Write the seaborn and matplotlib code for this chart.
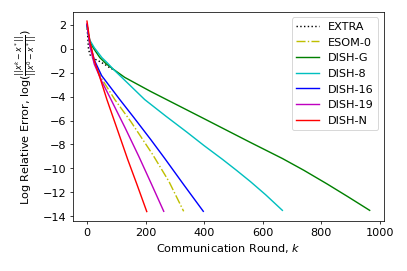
import matplotlib
matplotlib.use("Agg")
import matplotlib.pyplot as plt
import seaborn as sns

# valori (round k, log errore relativo)
extra_k = [0, 3, 5, 10, 20, 38, 60, 78, 90]
extra_y = [2.0, 0.8, 0.0, -0.5, -0.8, -1.0, -1.3, -1.6, -1.75]

esom_k = [0, 10, 25, 50, 95, 150, 224, 280, 330]
esom_y = [2.0, 0.3, -1.2, -2.5, -4.25, -6.1, -8.83, -11.1, -13.58]

dishg_k = [0, 5, 10, 21, 44, 65, 90, 129, 218, 400, 558, 667, 740, 820, 890, 965]
dishg_y = [2.0, 1.1, 0.6, 0.08, -0.75, -1.25, -1.72, -2.4, -3.58, -5.85, -7.83, -9.17, -10.15, -11.3, -12.35, -13.5]

dish8_k = [0, 5, 10, 25, 51, 70, 90, 140, 197, 270, 340, 400, 463, 510, 558, 610, 667]
dish8_y = [2.0, 1.2, 0.7, 0.08, -0.75, -1.2, -1.72, -2.9, -4.25, -5.65, -6.95, -8.1, -9.25, -10.15, -11.1, -12.2, -13.5]

dish16_k = [0, 10, 25, 50, 112, 160, 218, 265, 330, 397]
dish16_y = [2.0, 0.4, -0.95, -2.25, -4.25, -5.75, -7.6, -9.15, -11.35, -13.58]

dish19_k = [0, 10, 25, 50, 82, 130, 177, 220, 262]
dish19_y = [2.1, 0.2, -1.3, -2.7, -4.25, -6.6, -9.0, -11.3, -13.58]

dishn_k = [0, 10, 25, 44, 68, 100, 139, 170, 204]
dishn_y = [2.3, 0.6, -1.0, -2.4, -4.25, -6.5, -9.25, -11.3, -13.6]

plt.rcParams["font.size"] = 12

fig = plt.figure(figsize=(6, 4), dpi=407 / 6)
ax = fig.add_subplot(111)

sns.lineplot(x=extra_k, y=extra_y, color="k", linestyle=":", linewidth=1.5, label="EXTRA", ax=ax)
sns.lineplot(x=esom_k, y=esom_y, color="y", linestyle="-.", linewidth=1.5, label="ESOM-0", ax=ax)
sns.lineplot(x=dishg_k, y=dishg_y, color="g", linewidth=1.5, label="DISH-G", ax=ax)
sns.lineplot(x=dish8_k, y=dish8_y, color="c", linewidth=1.5, label="DISH-8", ax=ax)
sns.lineplot(x=dish16_k, y=dish16_y, color="b", linewidth=1.5, label="DISH-16", ax=ax)
sns.lineplot(x=dish19_k, y=dish19_y, color="m", linewidth=1.5, label="DISH-19", ax=ax)
sns.lineplot(x=dishn_k, y=dishn_y, color="r", linewidth=1.5, label="DISH-N", ax=ax)

ax.set_xlabel("Communication Round, $k$")
ax.set_ylabel(r"Log Relative Error, $\log(\frac{||x^k - x^*||}{||x^0 - x^*||})$")
ax.set_yticks([2, 0, -2, -4, -6, -8, -10, -12, -14])
ax.legend(loc="upper right")

fig.subplots_adjust(left=0.179, right=0.943, top=0.956, bottom=0.184)
fig.savefig("out.png", dpi=407 / 6)
